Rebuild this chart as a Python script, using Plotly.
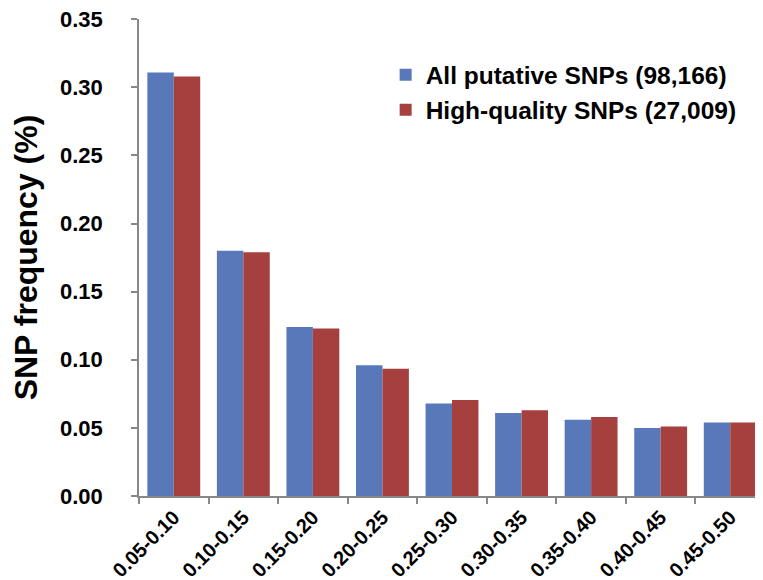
import plotly.graph_objects as go

categories = ["0.05-0.10", "0.10-0.15", "0.15-0.20", "0.20-0.25", "0.25-0.30",
              "0.30-0.35", "0.35-0.40", "0.40-0.45", "0.45-0.50"]
all_snps = [0.311, 0.180, 0.124, 0.096, 0.068, 0.061, 0.056, 0.050, 0.054]
hq_snps = [0.308, 0.179, 0.123, 0.0935, 0.0705, 0.063, 0.058, 0.051, 0.054]
y_ticks = [0.00, 0.05, 0.10, 0.15, 0.20, 0.25, 0.30, 0.35]
name_all = "All putative SNPs (98,166)"
name_hq = "High-quality SNPs (27,009)"

FONT = "Liberation Sans, Arial, sans-serif"
fig = go.Figure()
fig.add_trace(go.Bar(x=categories, y=all_snps, name=name_all, marker_color="#5878BA",
                     marker_line_width=0, legendgroup="a"))
fig.add_trace(go.Bar(x=categories, y=hq_snps, name=name_hq, marker_color="#A5403E",
                     marker_line_width=0, legendgroup="b"))

fig.update_layout(
    width=763, height=580,
    margin=dict(l=131, r=6, t=11, b=92, autoexpand=False),
    plot_bgcolor="white", paper_bgcolor="white",
    barmode="group", bargap=0.24, bargroupgap=0,
    font=dict(family=FONT, color="black"),
    legend=dict(x=0.394, y=0.93, xanchor="left", yanchor="top",
                font=dict(size=24.5, family=FONT, weight="bold"),
                tracegroupgap=0, bgcolor="rgba(0,0,0,0)"),
    showlegend=True,
)
fig.update_xaxes(
    automargin=False,
    showline=True, linecolor="#888888", linewidth=1.5,
    ticks="outside", tickson="boundaries", ticklen=6, tickcolor="#888888", tickwidth=1.5,
    tickangle=-45, tickfont=dict(size=20, family=FONT, weight="bold"),
    ticklabeloverflow="allow",
    showgrid=False,
)
fig.update_yaxes(
    automargin=False,
    range=[0, 0.3502], tickvals=y_ticks, tickformat=".2f",
    showline=True, linecolor="#888888", linewidth=1.5,
    ticks="outside", ticklen=6, tickcolor="#888888", tickwidth=1.5,
    tickfont=dict(size=22, family=FONT, weight="bold"),
    ticklabelstandoff=24, ticklabeloverflow="allow",
    showgrid=False, zeroline=False,
    title=dict(text="SNP frequency (%)", font=dict(size=32, family=FONT, weight="bold"), standoff=26),
)
fig.write_html("out.html")
